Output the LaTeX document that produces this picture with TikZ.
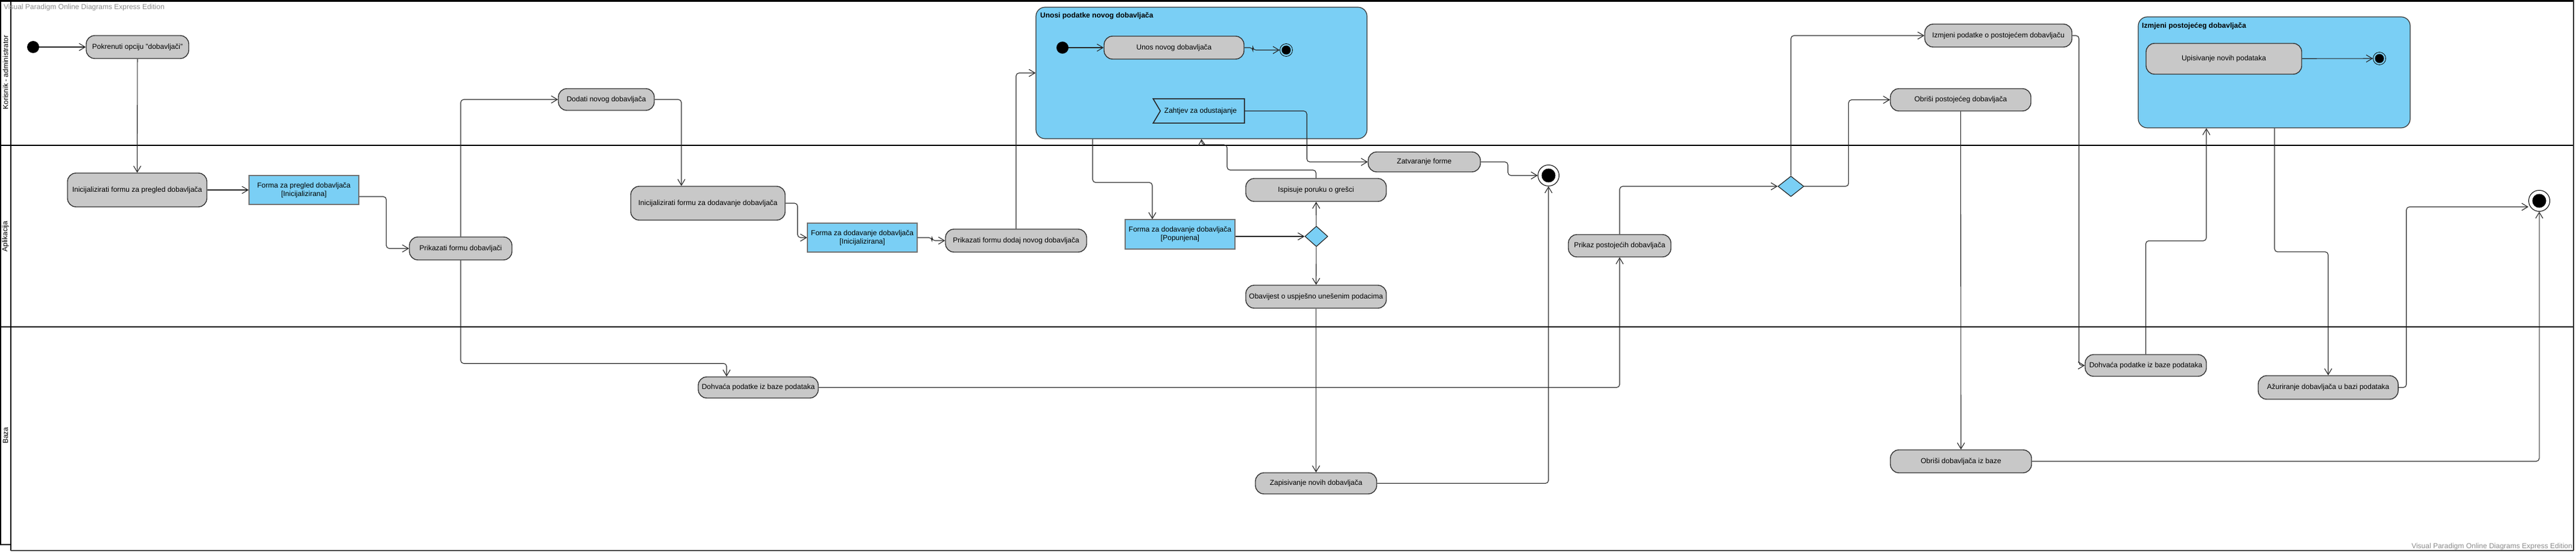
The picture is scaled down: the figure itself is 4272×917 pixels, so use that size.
\documentclass[tikz,border=0pt]{standalone}
\usepackage{fontspec}
\setmainfont{Liberation Sans}
\usepackage{tikz}
\usetikzlibrary{arrows.meta,shapes.geometric,positioning}

\definecolor{actgray}{RGB}{200,200,200}
\definecolor{objblue}{RGB}{122,207,245}

\begin{document}
\begin{tikzpicture}[x=1pt,y=-1pt,>={Straight Barb[length=10pt,width=12pt]},
			font=\fontsize{12}{14}\selectfont,
			act node/.style={rectangle,rounded corners=14pt,draw=black!80,fill=actgray,line width=1.4pt,inner sep=0pt,align=center},
			obj node/.style={rectangle,draw=black!55,fill=objblue,line width=1.2pt,inner sep=0pt,align=center},
			group node/.style={rectangle,rounded corners=15pt,draw=black!80,fill=objblue,line width=1.2pt,inner sep=0pt},
			event node/.style={rectangle,fill=objblue,inner sep=0pt},
			decision node/.style={diamond,draw=black!85,fill=objblue,line width=1.2pt,inner sep=0pt},
			start node/.style={circle,fill=black,minimum size=20pt,inner sep=0pt},
			end node/.style={circle,draw=black,fill=white,line width=1pt,minimum size=35pt,inner sep=0pt,
				path picture={\fill[black] (path picture bounding box.center) circle (11.5pt);}},
			sub end node/.style={circle,draw=black,line width=0.8pt,minimum size=21pt,inner sep=0pt,
				path picture={\fill[black] (path picture bounding box.center) circle (7.5pt);}},
			title/.style={font=\fontsize{12}{14}\selectfont\bfseries,anchor=west,inner sep=0pt},
			lane label/.style={rotate=90,inner sep=0pt},
			watermark/.style={text=black!45,inner sep=0pt},
			flow/.style={->,line width=1.1pt,draw=black!85,rounded corners=5pt}]
			\useasboundingbox (0,0) rectangle (4272,917);
			\fill[white] (0,0) rectangle (4272,917);

			\draw[line width=3pt] (0,1.5) -- (4268,1.5);
			\draw[line width=2.5pt] (0,241) -- (4268,241);
			\draw[line width=2.5pt] (0,542) -- (4268,542);
			\draw[line width=1.5pt] (1,0) -- (1,903);
			\draw[line width=2.2pt] (18,0) -- (18,913);
			\draw[line width=2.2pt] (0,903) -- (18,903);
			\draw[line width=2pt,black!70] (18,913) -- (4268,913);
			\draw[line width=1.5pt,black!80] (4268,0) -- (4268,913);
			\node[lane label] (l1) at (9,120) {Korisnik - administrator};
			\node[lane label] (l2) at (9,392) {Aplikacija};
			\node[lane label] (l3) at (9,722) {Baza};
			\node[watermark,anchor=west] (w1) at (6,12) {Visual Paradigm Online Diagrams Express Edition};
			\node[watermark,anchor=east] (w2) at (4266,906) {Visual Paradigm Online Diagrams Express Edition};

			\node[start node] (1) at (55,78) {};
			\node[act node,minimum width=170pt,minimum height=38pt] (2) at (228,78) {Pokrenuti opciju "dobavljači"};
			\node[act node,minimum width=231pt,minimum height=56pt] (3) at (227.5,315) {Inicijalizirati formu za pregled dobavljača};
			\node[obj node,minimum width=182pt,minimum height=48pt] (4) at (504,315) {Forma za pregled dobavljača\\{}[Inicijalizirana]};
			\node[act node,minimum width=170pt,minimum height=38pt] (5) at (764,412) {Prikazati formu dobavljači};
			\node[act node,minimum width=159pt,minimum height=36pt] (6) at (1005.5,165) {Dodati novog dobavljača};
			\node[act node,minimum width=256pt,minimum height=56pt] (7) at (1174,337) {Inicijalizirati formu za dodavanje dobavljača};
			\node[obj node,minimum width=182pt,minimum height=48pt] (8) at (1430,394) {Forma za dodavanje dobavljača\\{}[Inicijalizirana]};
			\node[act node,minimum width=234pt,minimum height=38pt] (9) at (1685,399) {Prikazati formu dodaj novog dobavljača};

			\node[group node,minimum width=549pt,minimum height=218pt] (10) at (1992.5,121) {};
			\node[title] (10t) at (1725,26) {Unosi podatke novog dobavljača};
			\node[start node] (10a) at (1762,79) {};
			\node[act node,minimum width=232pt,minimum height=38pt] (10b) at (1947,79) {Unos novog dobavljača};
			\node[sub end node] (10c) at (2133,83) {};
			\node[event node,minimum width=151pt,minimum height=40pt] (10d) at (1988,184) {\hspace{6pt}Zahtjev za odustajanje};
			\draw[line width=1.6pt,black!85] (10d.north west) -- (10d.north east) -- (10d.south east)
				-- (10d.south west) -- ([xshift=12pt]10d.west) -- cycle;

			\node[act node,minimum width=186pt,minimum height=33pt] (11) at (2362,268.5) {Zatvaranje forme};
			\node[end node] (12) at (2568,291) {};
			\node[obj node,minimum width=182pt,minimum height=49pt] (13) at (1957,388.5) {Forma za dodavanje dobavljača\\{}[Popunjena]};
			\node[decision node,minimum width=38pt,minimum height=34pt] (14) at (2183,392) {};
			\node[act node,minimum width=233pt,minimum height=38pt] (15) at (2182.5,315) {Ispisuje poruku o grešci};
			\node[act node,minimum width=233pt,minimum height=38pt] (16) at (2182.5,492) {Obavijest o uspješno unešenim podacima};
			\node[act node,minimum width=201pt,minimum height=35pt] (17) at (2182.5,801.5) {Zapisivanje novih dobavljača};
			\node[act node,minimum width=199pt,minimum height=35pt] (18) at (1257.5,642.5) {Dohvaća podatke iz baze podataka};
			\node[act node,minimum width=170pt,minimum height=37pt] (19) at (2686,407.5) {Prikaz postojećih dobavljača};
			\node[decision node,minimum width=43pt,minimum height=34pt] (20) at (2970,309) {};
			\node[act node,minimum width=244pt,minimum height=38pt] (21) at (3314,59) {Izmjeni podatke o postojećem dobavljaču};
			\node[act node,minimum width=233pt,minimum height=37pt] (22) at (3251.5,165.5) {Obriši postojećeg dobavljača};

			\node[group node,minimum width=451pt,minimum height=184pt] (23) at (3771.5,120) {};
			\node[title] (23t) at (3552,43) {Izmjeni postojećeg dobavljača};
			\node[act node,minimum width=258pt,minimum height=51pt] (23a) at (3688,97.5) {Upisivanje novih podataka};
			\node[sub end node] (23b) at (3946,97) {};

			\node[act node,minimum width=201pt,minimum height=36pt] (24) at (3558.5,606) {Dohvaća podatke iz baze podataka};
			\node[act node,minimum width=232pt,minimum height=39pt] (25) at (3861,642.5) {Ažuriranje dobavljača u bazi podataka};
			\node[act node,minimum width=234pt,minimum height=38pt] (26) at (3252,765) {Obriši dobavljača iz baze};
			\node[end node] (27) at (4211,333) {};

			\draw[flow] (1) -- (2);
			\draw[flow] (2) -- (3);
			\draw[flow] (3) -- (4);
			\draw[flow] ([yshift=-11pt]4.east) -- ++(45,0) |- (5);
			\draw[flow] (5) |- (6);
			\draw[flow] (6) -| ([xshift=-44pt]7.north);
			\draw[flow] (7.east) -- ++(20,0) |- (8);
			\draw[flow] (8.east) -- ++(24,0) |- (9);
			\draw[flow] (9) |- (10);
			\draw[flow] (10a) -- (10b);
			\draw[flow] (10b.east) -- ++(14,0) |- (10c);
			\draw[flow] (10d.east) -- ++(103.5,0) |- (11);
			\draw[flow] ([xshift=-180.5pt]10.south) -- ++(0,72) -| ([xshift=-46pt]13.north);
			\draw[flow] (13.east |- 14.west) -- (14.west);
			\draw[flow] (14) -- (15);
			\draw[flow] (15) |- (2035,282) |- (1993,240) -- (10.south);
			\draw[flow] (14) -- (16);
			\draw[flow] (16) -- (17);
			\draw[flow] (17) -| (12);
			\draw[flow] (11.east) -- ++(45,0) |- (12);
			\draw[flow] (5.south) -- ++(0,171) -| ([xshift=-52.5pt]18.north);
			\draw[flow] (18) -| (19);
			\draw[flow] (19) |- (20);
			\draw[flow] (20) |- (21);
			\draw[flow] (20.east) -- ++(73.5,0) |- (22);
			\draw[flow] (21.east) -- ++(11,0) |- (24);
			\draw[flow] (24.north) -- ++(0,-188) -| ([xshift=-112.5pt]23.south);
			\draw[flow] ([xshift=0.5pt]23.south) -- ++(0,205) -| (25);
			\draw[flow] (25.east) -- ++(13,0) |- ([yshift=-10pt]27.west);
			\draw[flow] (22) -- (26);
			\draw[flow] (26) -| (27);
			\draw[flow] (23a) -- (23b);
		\end{tikzpicture}
\end{document}
